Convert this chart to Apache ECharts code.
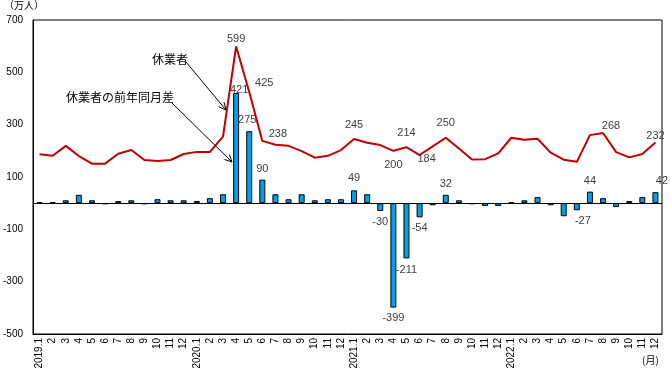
<!DOCTYPE html>
<html>
<head>
<meta charset="utf-8">
<script src="https://cdn.jsdelivr.net/npm/echarts@6/dist/echarts.min.js"></script>
<style>html,body{margin:0;padding:0;background:#fff}#c{width:670px;height:373px}</style>
</head>
<body>
<div id="c"></div>
<script>
// ---- data ----
var years = ['2019', '2020', '2021', '2022'];
var months = [1,2,3,4,5,6,7,8,9,10,11,12];
var categories = [];
years.forEach(function (y) { months.forEach(function (m) { categories.push(m === 1 ? y + '.1' : String(m)); }); });

// 休業者 (万人)
var kyugyosha = [
  187,181,219,180,151,151,189,203,165,161,165,188,
  196,196,254,599,425,238,223,219,199,174,181,203,
  245,231,222,200,214,184,217,250,209,167,168,190,
  250,242,246,193,166,158,260,268,195,175,188,232
];
// 休業者の前年同月差 (万人)
var zenNenSa = [
  4,4,11,32,11,-4,8,11,-4,15,11,11,
  8,19,34,421,275,90,34,15,34,11,15,15,
  49,34,-30,-399,-211,-54,-8,32,11,-4,-11,-11,
  4,11,23,-8,-50,-27,44,19,-15,8,23,42
];
var yTickLabels = [-500,-300,-100,100,300,500,700];
var lineLabelIdx = [15,16,17,24,27,28,29,31,43,47];
var barLabelIdx = [15,16,17,24,26,27,28,29,31,41,42,47];

// ---- label placement (styles kept separate) ----
var lineLabelPos = {
  15:['top',[0,3.5]], 16:['top',[15,1.5]], 17:['top',[15.5,3.5]], 24:['top',[0,-3.5]],
  27:['bottom',[0,4]], 28:['top',[0,-3.5]], 29:['bottom',[7,-6.5]], 31:['top',[0,-4.5]],
  43:['top',[8,3.5]], 47:['top',[0,4.5]]
};
var barLabelPos = {
  15:['top',[3,7]], 16:['top',[-2,-0.5]], 17:['top',[0,-0.5]], 24:['top',[0,-1.5]],
  26:['bottom',[0,0.5]], 27:['bottom',[0,-0.5]], 28:['bottom',[0,1]], 29:['bottom',[0,0.5]],
  31:['top',[0,-0.5]], 41:['bottom',[6,0.5]], 42:['top',[0,-0.5]], 47:['top',[6.5,-0.5]]
};
var labelFont = {fontFamily:'Liberation Sans, Arial, sans-serif', fontSize:11, color:'#404040'};

var lineData = kyugyosha.map(function (v, i) {
  if (lineLabelIdx.indexOf(i) < 0) return v;
  var p = lineLabelPos[i];
  return {value:v, label:Object.assign({show:true, position:p[0], offset:p[1], distance:5}, labelFont)};
});
var barData = zenNenSa.map(function (v, i) {
  if (barLabelIdx.indexOf(i) < 0) return v;
  var p = barLabelPos[i];
  return {value:v, label:Object.assign({show:true, position:p[0], offset:p[1], distance:5}, labelFont)};
});

var chart = echarts.init(document.getElementById('c'), null, {renderer:'canvas'});
var G = {left:32, right:8, top:20, bottom:39};

function arrow(x1,y1,x2,y2){
  var ang = Math.atan2(y2-y1, x2-x1), L = 8, a = 0.45;
  return [
    {type:'line', shape:{x1:x1,y1:y1,x2:x2,y2:y2}, style:{stroke:'#000', lineWidth:1}, z:100},
    {type:'polyline', shape:{points:[
      [x2 - L*Math.cos(ang-a), y2 - L*Math.sin(ang-a)], [x2,y2],
      [x2 - L*Math.cos(ang+a), y2 - L*Math.sin(ang+a)]]}, style:{stroke:'#000', lineWidth:1, fill:null}, z:100}
  ];
}
var jpFont = 'Noto Sans CJK JP, sans-serif';

chart.setOption({
  animation:false,
  backgroundColor:'#fff',
  grid:{left:G.left, right:G.right, top:G.top, bottom:G.bottom, show:true, borderColor:'#000', borderWidth:1, backgroundColor:'transparent'},
  xAxis:{
    type:'category', data:categories, boundaryGap:true,
    axisLine:{onZero:false, lineStyle:{color:'#000', width:1}},
    axisTick:{show:false},
    axisLabel:{interval:0, rotate:90, fontSize:10, color:'#000', margin:4, fontFamily:'Liberation Sans, Arial, sans-serif'},
    splitLine:{show:false}
  },
  yAxis:{
    type:'value', min:-500, max:700, interval:100,
    axisLine:{show:true, lineStyle:{color:'#000', width:1}},
    axisTick:{show:false},
    splitLine:{show:false},
    axisLabel:{fontSize:10, color:'#000', margin:10, fontFamily:'Liberation Sans, Arial, sans-serif',
      formatter:function(v){ return yTickLabels.indexOf(v) >= 0 ? String(v) : ''; }}
  },
  series:[
    {type:'bar', name:'休業者の前年同月差', data:barData, barWidth:6,
     itemStyle:{color:'#00A0E9', borderColor:'#000', borderWidth:1},
     markLine:{silent:true, symbol:['none','none'], label:{show:false},
       lineStyle:{color:'#000', width:1, type:'solid'}, data:[{yAxis:0}]},
     z:2},
    {type:'line', name:'休業者', data:lineData, showSymbol:true, symbol:'circle', symbolSize:0,
     lineStyle:{color:'#C00000', width:2}, itemStyle:{color:'#C00000'}, z:3}
  ],
  graphic:[
    {type:'text', left:4, top:0, style:{text:'（万人）', fontSize:10, fill:'#000', fontFamily:jpFont}},
    {type:'text', left:642, top:355, style:{text:'(月)', fontSize:10, fill:'#000', fontFamily:jpFont}},
    {type:'text', x:152, y:53, style:{text:'休業者', fontSize:12, fill:'#000', fontFamily:jpFont}, z:100},
    {type:'text', x:66, y:91, style:{text:'休業者の前年同月差', fontSize:12, fill:'#000', fontFamily:jpFont}, z:100}
  ].concat(arrow(186,62,226,110)).concat(arrow(172,103,232,162))
});
</script>
</body>
</html>
